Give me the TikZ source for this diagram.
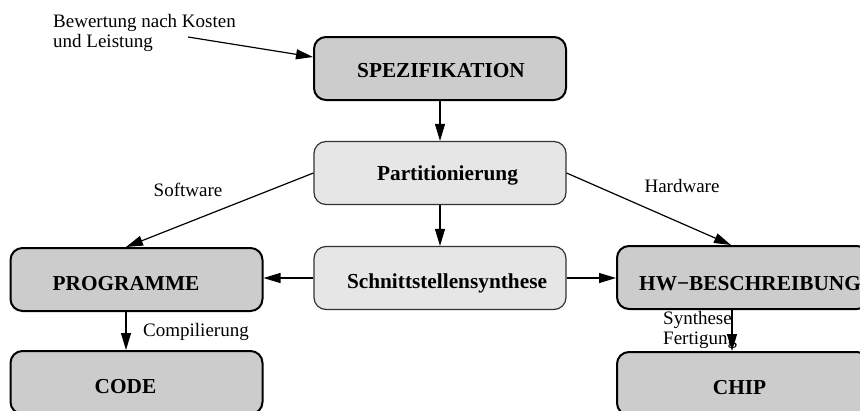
\documentclass[tikz,border=0pt]{standalone}
\usepackage{fontspec}
\setmainfont{Liberation Serif}
\usetikzlibrary{arrows.meta,calc}
\definecolor{boxdark}{RGB}{204,204,204}
\definecolor{boxlight}{RGB}{230,230,230}
\begin{document}
\begin{tikzpicture}[x=1pt,y=-1pt,
  mainbox/.style={draw=black,line width=2pt,fill=boxdark,rounded corners=12pt,
    minimum width=252pt,minimum height=63pt,inner sep=0pt},
  stagebox/.style={draw=black!80,line width=1.2pt,fill=boxlight,rounded corners=12pt,
    minimum width=252pt,minimum height=63pt,inner sep=0pt},
  boxlabel/.style={font=\fontsize{21.3}{24}\selectfont\bfseries,inner sep=0pt,anchor=base},
  note/.style={font=\fontsize{19}{20}\selectfont,inner sep=0pt,anchor=base west},
  flow/.style={line width=1.2pt,-{Triangle[length=17pt,width=10pt]}}]
\useasboundingbox (0,0) rectangle (860,410);
\clip (0,0) rectangle (860,410);

% boxes
\node[mainbox]  (spez)    at (440,68.5)  {};
\node[stagebox] (part)    at (440,173)   {};
\node[stagebox] (schnitt) at (440,278)   {};
\node[mainbox]  (prog)    at (136.5,279.5) {};
\node[mainbox]  (code)    at (136.5,382.5) {};
\node[mainbox]  (hw)      at (743,277.5) {};
\node[mainbox]  (chip)    at (743,383.5) {};

% box texts
\node[boxlabel] (spezl)    at (441,77.5)  {SPEZIFIKATION};
\node[boxlabel] (partl)    at (447.5,180) {Partitionierung};
\node[boxlabel] (schnittl) at (447,288)   {Schnittstellensynthese};
\node[boxlabel] (progl)    at (126,290)   {PROGRAMME};
\node[boxlabel] (codel)    at (125.5,393) {CODE};
\node[boxlabel,anchor=base west] (hwl) at (639,290) {HW−BESCHREIBUNG};
\node[boxlabel] (chipl)    at (739.5,394) {CHIP};

% free texts
\node[note] (bew1) at (53,27) {Bewertung nach Kosten};
\node[note] (bew2) at (53,47) {und Leistung};
\node[note,anchor=base] (sw) at (188,196.5) {Software};
\node[note,anchor=base] (hwt) at (682,192) {Hardware};
\node[note] (comp) at (143,336) {Compilierung};
\node[note] (syn) at (663,324) {Synthese};
\node[note] (fert) at (663,344) {Fertigung};

% connector end points
\coordinate (bewstart) at (188,37);
\coordinate (bewend) at (spez.west |- 0,57);
\coordinate (hwin) at ($(hw.north west)+(115,0)$);
\coordinate (hwout) at ($(hw.south west)+(116,0)$);

% connectors
\draw[flow] (bewstart) -- (bewend);
\draw[flow] (spez.south) -- (part.north);
\draw[flow] (part.south) -- (schnitt.north);
\draw[flow] (part.west) -- (prog.north -| progl);
\draw[flow] (part.east) -- (hwin);
\draw[flow] (schnitt.west) -- (schnitt.west -| prog.east);
\draw[flow] (schnitt.east) -- (schnitt.east -| hw.west);
\draw[flow] (prog.south -| progl) -- (code.north -| progl);
\draw[flow] (hwout) -- (chip.north -| hwout);
\end{tikzpicture}
\end{document}
